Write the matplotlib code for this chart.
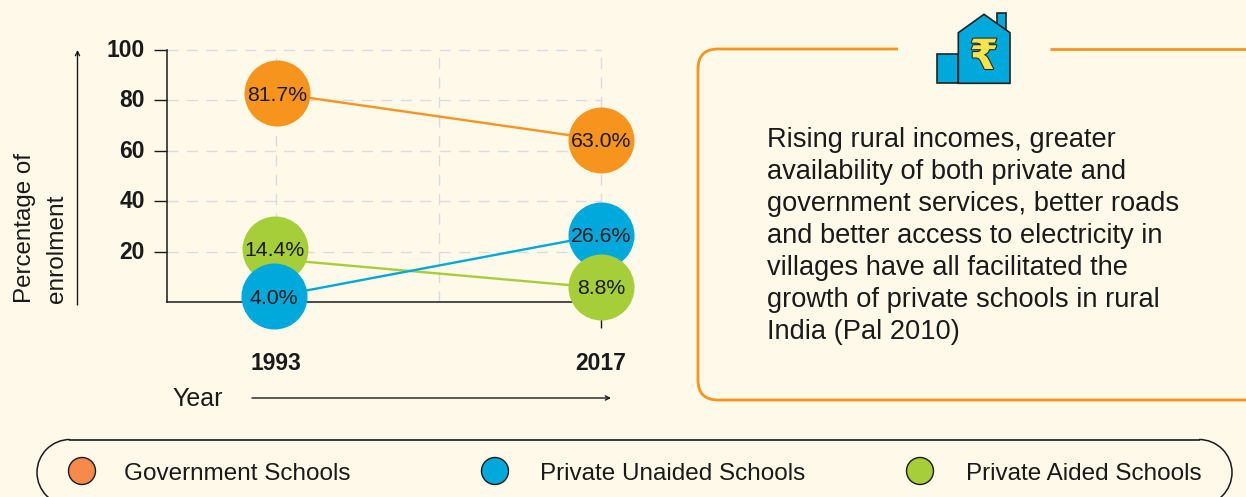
"""Rural school enrolment by school type, 1993 vs 2017, with a note panel and legend."""
import matplotlib
matplotlib.use("Agg")
import matplotlib.pyplot as plt
import matplotlib.patheffects as pe
from matplotlib.patches import Arc, PathPatch, Polygon, Rectangle, Circle
from matplotlib.path import Path
from matplotlib.transforms import ScaledTranslation

W, H = 1246, 497
BG = "#FFF9E9"
INK = "#1a1a1a"
ORANGE = "#F7941D"
BLUE = "#00A9DC"
GREEN = "#A6CE39"
GRID = "#DADBE0"
plt.rcParams["font.family"] = ["Liberation Sans", "DejaVu Sans"]

years = [1993, 2017]
y_ticks = [20, 40, 60, 80, 100]
grid_x = [1993, 2005, 2017]

gov_labels = ["81.7%", "63.0%"]
gov_x = [1993.1, 2017.0]
gov_y = [82.9, 64.4]
unaided_labels = ["4.0%", "26.6%"]
unaided_x = [1992.85, 2017.0]
unaided_y = [2.3, 26.6]
aided_labels = ["14.4%", "8.8%"]
aided_x = [1992.9, 2017.0]
aided_y = [21.2, 6.0]
aided_line_y = [17.0, 5.6]

note = ("Rising rural incomes, greater\navailability of both private and\n"
        "government services, better roads\nand better access to electricity in\n"
        "villages have all facilitated the\ngrowth of private schools in rural\n"
        "India (Pal 2010)")
legend_names = ["Government Schools", "Private Unaided Schools", "Private Aided Schools"]
legend_colors = ["#F58A4B", BLUE, GREEN]
legend_dot_x = [82, 495, 920]
legend_text_x = [124, 540, 966]

fig = plt.figure(figsize=(W / 100, H / 100), dpi=100, facecolor=BG)

# overlay in pixel coordinates for the panel, icon, arrows and legend
over = fig.add_axes([0, 0, 1, 1], zorder=0)
over.set_xlim(0, W)
over.set_ylim(H, 0)
over.axis("off")

ax = fig.add_axes([167 / W, 1 - 302 / H, (601 - 167) / W, 252 / H], zorder=1)
ax.patch.set_alpha(0)
ax.set_xlim(1984.95, 2017)
ax.set_ylim(0, 100)
for s in ("top", "right"):
    ax.spines[s].set_visible(False)
for s in ("left", "bottom"):
    ax.spines[s].set_color(INK)
    ax.spines[s].set_linewidth(1.1)
for v in y_ticks:
    ax.axhline(v, color=GRID, lw=1, dashes=(8, 6), clip_on=False, zorder=1)
for v in grid_x:
    ax.axvline(v, color=GRID, lw=1, dashes=(8, 6), clip_on=False, zorder=1)
ax.set_yticks(y_ticks)
ax.set_yticklabels(y_ticks, fontsize=16.5, fontweight="bold", color=INK)
ax.tick_params(axis="y", length=9.4, width=1, pad=6.5, color=INK)
up = ScaledTranslation(0, 2 / 100, fig.dpi_scale_trans)
for lab in ax.get_yticklabels():
    lab.set_transform(lab.get_transform() + up)
ax.set_xticks(years)
ax.set_xticklabels(years, fontsize=16.5, fontweight="bold", color=INK)
ax.tick_params(axis="x", length=18.7, width=1, pad=17, color=INK)

SIZE = 2258
ax.plot(years, gov_y, color=ORANGE, lw=1.7, clip_on=False, zorder=2)
ax.plot(years, aided_line_y, color=GREEN, lw=1.7, clip_on=False, zorder=2)
ax.plot(years, unaided_y, color=BLUE, lw=1.7, clip_on=False, zorder=2.5)
ax.scatter(gov_x, gov_y, s=SIZE, color=ORANGE, lw=0, clip_on=False, zorder=3)
# green over blue at 2017, blue over green at 1993
ax.scatter(aided_x[:1], aided_y[:1], s=SIZE, color=GREEN, lw=0, clip_on=False, zorder=3)
ax.scatter(unaided_x, unaided_y, s=SIZE, color=BLUE, lw=0, clip_on=False, zorder=3.1)
ax.scatter(aided_x[1:], aided_y[1:], s=SIZE, color=GREEN, lw=0, clip_on=False, zorder=3.2)
down = ScaledTranslation(0, -2 / 100, fig.dpi_scale_trans)
for xs, ys, labels in ((gov_x, gov_y, gov_labels), (unaided_x, unaided_y, unaided_labels),
                       (aided_x, aided_y, aided_labels)):
    for x, y, lab in zip(xs, ys, labels):
        ax.text(x, y, lab, ha="center", va="center", fontsize=15.3, color=INK, zorder=4,
                transform=ax.transData + down)

# axis captions and arrows
over.text(25, 303, "Percentage of", rotation=90, ha="center", va="bottom", fontsize=17.4, color=INK)
over.text(57, 303, "enrolment", rotation=90, ha="center", va="bottom", fontsize=17.6, color=INK)
over.text(172, 399, "Year", ha="left", va="center", fontsize=18, color=INK)
arrow = dict(arrowstyle="->,head_length=0.3,head_width=0.15", color=INK, lw=1, shrinkA=0, shrinkB=0)
over.annotate("", xy=(77.5, 50), xytext=(77.5, 305), arrowprops=arrow)
over.annotate("", xy=(611, 398), xytext=(252, 398), arrowprops=arrow)

# note panel: open at the top for the icon, running off the right edge
verts = [(898, 49), (718, 49), (698, 49), (698, 69), (698, 380), (698, 400), (718, 400), (1250, 400)]
codes = [Path.MOVETO, Path.LINETO, Path.CURVE3, Path.CURVE3, Path.LINETO, Path.CURVE3, Path.CURVE3, Path.LINETO]
over.add_patch(PathPatch(Path(verts, codes), fc="none", ec=ORANGE, lw=2))
over.plot([1050, 1250], [49, 49], color=ORANGE, lw=2, solid_capstyle="butt")
over.text(767, 236, note, ha="left", va="center", fontsize=19.6, color=INK, linespacing=1.295)

# house icon
over.add_patch(Rectangle((996.7, 12.7), 9, 24, fc=BLUE, ec="#222222", lw=1.2))
over.add_patch(Rectangle((937.3, 54.3), 21, 29, fc=BLUE, ec="#222222", lw=1.2))
over.add_patch(Polygon([(958.3, 32.7), (984, 14.3), (1010, 32.7), (1010, 83.3), (958.3, 83.3)],
                       closed=True, fc=BLUE, ec="#222222", lw=1.2))
over.text(984, 57, "\u20b9", ha="center", va="center", fontsize=30, fontweight="bold", color="#F7E34B",
          family=["DejaVu Sans"], path_effects=[pe.withStroke(linewidth=1.5, foreground="#222222")])

# legend pill, cut by the bottom edge
over.plot([70, 1199], [439.5, 439.5], color=INK, lw=1.2)
over.add_patch(Arc((70, 472.5), 66, 66, theta1=90, theta2=270, color=INK, lw=1.1))
over.add_patch(Arc((1199, 472.5), 66, 66, theta1=-90, theta2=90, color=INK, lw=1.1))
for dx, tx, name, col in zip(legend_dot_x, legend_text_x, legend_names, legend_colors):
    over.add_patch(Circle((dx, 471), 13.5, fc=col, ec=INK, lw=1))
    over.text(tx, 473.5, name, ha="left", va="center", fontsize=17.45, color=INK)

fig.savefig("out.png", dpi=100, facecolor=BG)
plt.close(fig)
